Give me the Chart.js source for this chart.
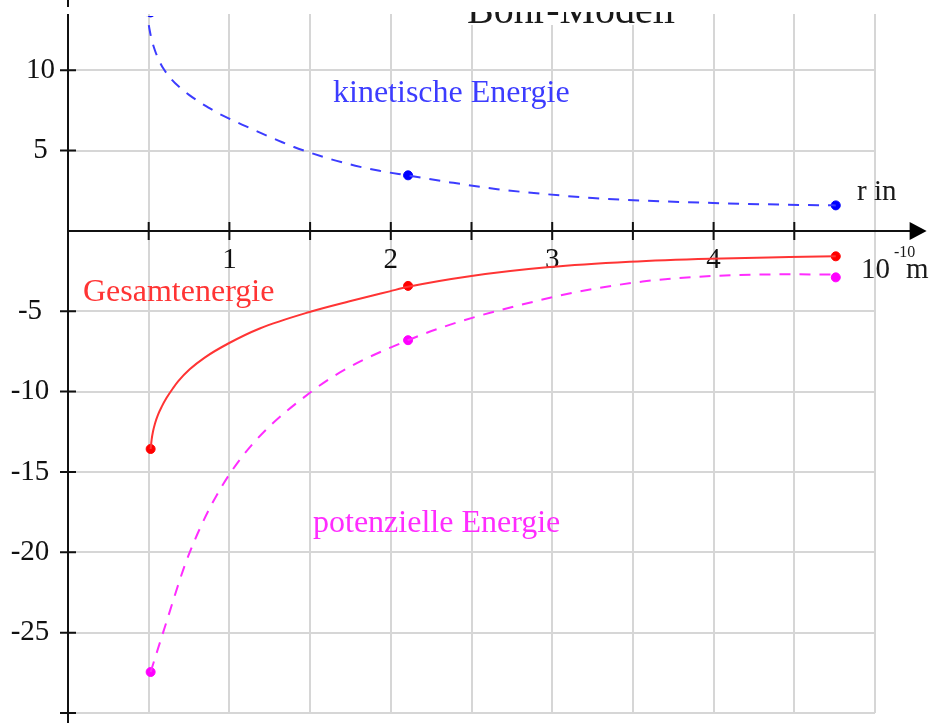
<!DOCTYPE html>
<html lang="de">
<head>
<meta charset="utf-8">
<title>Bohr-Modell</title>
<script src="https://cdn.jsdelivr.net/npm/chart.js@4.4.1/dist/chart.umd.min.js"></script>
<style>
  html, body { margin: 0; padding: 0; background: #fff; }
  canvas { display: block; }
</style>
</head>
<body>
<canvas id="energie" width="933" height="723"></canvas>
<script>
/* ---- Bahnradien r_n (10^-10 m) und Energien (eV) der ersten drei Bahnen ---- */
const R_LEVELS   = [0.512, 2.107, 4.757];
const KIN_LEVELS = [13.6, 3.46, 1.59];
const GES_LEVELS = [-13.57, -3.42, -1.58];
const POT_LEVELS = [-27.45, -6.8, -2.89];

/* ---- Kurvenverlauf ---- */
const R_KIN = [0.487, 0.492, 0.505, 0.52, 0.54, 0.56, 0.59, 0.64, 0.69, 0.75, 0.81, 0.87, 0.93, 1.0,
               1.1, 1.2, 1.3, 1.4, 1.5, 1.63, 1.78, 1.93, 2.107, 2.37, 2.66, 2.96, 3.25, 3.54, 4.0, 4.4, 4.757];
const E_KIN = [14.05, 13.45, 12.55, 11.85, 11.2, 10.7, 10.12, 9.45, 8.95, 8.47, 8.05, 7.68, 7.33, 6.98,
               6.52, 6.07, 5.64, 5.22, 4.87, 4.46, 4.06, 3.74, 3.45, 3.02, 2.6, 2.29, 2.05, 1.9, 1.74, 1.64, 1.59];

const R_GES = [0.512, 0.518, 0.527, 0.54, 0.558, 0.58, 0.61, 0.651, 0.682, 0.754, 0.847, 0.996, 1.188,
               1.491, 1.745, 1.993, 2.107, 2.489, 2.984, 3.48, 3.98, 4.47, 4.757];
const E_GES = [-13.57, -13.0, -12.47, -11.95, -11.43, -10.95, -10.4, -9.78, -9.36, -8.61, -7.88, -6.99, -6.07,
               -5.06, -4.38, -3.76, -3.48, -2.82, -2.25, -1.92, -1.73, -1.63, -1.58];

const R_POT = [0.512, 0.589, 0.754, 1.01, 1.508, 2.107, 3.0, 3.56, 4.0, 4.45, 4.757];
const E_POT = [-27.45, -25.0, -20.0, -15.0, -10.0, -6.8, -4.13, -3.15, -2.8, -2.7, -2.72];

/* ---- Achsenbeschriftung ---- */
const X_LABELS = [1, 2, 3, 4];
const Y_LABELS = [10, 5, -5, -10, -15, -20, -25];

const SERIF = '"Liberation Serif", "Times New Roman", serif';
const BLUE = '#3c3cff', RED = '#ff3434', MAGENTA = '#ff2cff';

const pts = (xs, ys) => xs.map((x, i) => ({ x: x, y: ys[i] }));

function curve(xs, ys, color, dash) {
  return {
    data: pts(xs, ys),
    showLine: true,
    borderColor: color,
    borderWidth: 2,
    borderDash: dash,
    pointRadius: 0,
    cubicInterpolationMode: 'monotone',
  };
}

function dots(ys, color) {
  return {
    data: pts(R_LEVELS, ys),
    showLine: false,
    backgroundColor: color,
    borderColor: color,
    pointRadius: 4.5,
  };
}

/* Achsenkreuz mit Pfeil, Striche, y-Zahlen */
const achsen = {
  id: 'achsen',
  beforeDatasetsDraw(chart) {
    const { ctx, chartArea, scales: { x, y } } = chart;
    const x0 = x.getPixelForValue(0);
    const y0 = y.getPixelForValue(0);
    const tip = x.getPixelForValue(5.32);

    ctx.save();
    ctx.strokeStyle = '#111';
    ctx.lineWidth = 2;
    ctx.beginPath();
    ctx.moveTo(x0, 0); ctx.lineTo(x0, 7);
    ctx.moveTo(x0, chartArea.top); ctx.lineTo(x0, chart.height);
    ctx.moveTo(x0, y0); ctx.lineTo(tip - 12, y0);
    y.ticks.forEach(t => {
      if (t.value === 0) return;
      const py = y.getPixelForValue(t.value);
      ctx.moveTo(x0 - 8, py); ctx.lineTo(x0 + 8, py);
    });
    x.ticks.forEach(t => {
      if (t.value === 0 || t.value === 5) return;
      const px = x.getPixelForValue(t.value);
      ctx.moveTo(px, y0 - 9); ctx.lineTo(px, y0 + 9);
    });
    ctx.stroke();

    ctx.fillStyle = '#000';
    ctx.beginPath();
    ctx.moveTo(tip, y0);
    ctx.lineTo(tip - 17, y0 - 9);
    ctx.lineTo(tip - 17, y0 + 9);
    ctx.closePath();
    ctx.fill();

    // y-Zahlen: negative Werte sitzen etwas weiter links
    ctx.font = '29px ' + SERIF;
    ctx.textAlign = 'center';
    ctx.textBaseline = 'middle';
    ctx.fillStyle = '#111';
    y.ticks.forEach(t => {
      if (!Y_LABELS.includes(t.value)) return;
      ctx.fillText(String(t.value), t.value < 0 ? 30 : 40.5, y.getPixelForValue(t.value));
    });
    ctx.restore();
  },
};

/* Kurven oben am Gitter abschneiden, seitlich dürfen die Punkte überstehen */
const rahmen = {
  id: 'rahmen',
  beforeDatasetsDraw(chart) {
    const a = chart.chartArea;
    chart.ctx.save();
    chart.ctx.beginPath();
    chart.ctx.rect(a.left - 10, a.top + 2, a.right - a.left + 20, a.bottom - a.top + 10);
    chart.ctx.clip();
  },
  afterDatasetsDraw(chart) {
    chart.ctx.restore();
  },
};

/* Titel und Beschriftungen */
const texte = {
  id: 'texte',
  afterDraw(chart) {
    const { ctx } = chart;
    ctx.save();
    // Titel, oben abgeschnitten
    ctx.fillStyle = '#fff';
    ctx.fillRect(0, 8, chart.width, 5);
    ctx.fillRect(465, 0, 213, 25);
    ctx.font = '40px ' + SERIF;
    ctx.textAlign = 'center';
    ctx.textBaseline = 'alphabetic';
    ctx.fillStyle = '#1a1a1a';
    ctx.fillText('Bohr-Modell', 571, 23);
    ctx.fillStyle = '#fff';
    ctx.fillRect(440, 0, 260, 12);

    ctx.textAlign = 'left';
    ctx.font = '32px ' + SERIF;
    ctx.fillStyle = BLUE;
    ctx.fillText('kinetische Energie', 333, 102);
    ctx.fillStyle = RED;
    ctx.fillText('Gesamtenergie', 83, 301);
    ctx.fillStyle = MAGENTA;
    ctx.fillText('potenzielle Energie', 313, 532);

    ctx.fillStyle = '#1a1a1a';
    ctx.font = '29px ' + SERIF;
    ctx.fillText('r in', 857, 200);
    ctx.fillText('10', 861, 278);
    ctx.fillText('m', 906, 278);
    ctx.font = '16px ' + SERIF;
    ctx.fillText('-10', 894, 257);
    ctx.restore();
  }
};

new Chart(document.getElementById('energie'), {
  type: 'scatter',
  data: {
    datasets: [
      curve(R_KIN, E_KIN, BLUE, [11, 9]),
      curve(R_GES, E_GES, RED, []),
      curve(R_POT, E_POT, MAGENTA, [11, 9]),
      dots(KIN_LEVELS, '#0000ff'),
      dots(GES_LEVELS, '#ff0000'),
      dots(POT_LEVELS, '#ff00ff'),
    ],
  },
  options: {
    responsive: false,
    animation: false,
    events: [],
    layout: { padding: { top: 14, right: 58, bottom: 10, left: 0 } },
    plugins: { legend: { display: false }, tooltip: { enabled: false } },
    scales: {
      x: {
        type: 'linear',
        position: { y: 0 },
        min: 0,
        max: 5,
        border: { display: false },
        grid: {
          color: c => (c.tick && c.tick.value === 0 ? 'rgba(0,0,0,0)' : '#d6d6d6'),
          lineWidth: 2,
          drawTicks: false,
        },
        ticks: {
          stepSize: 0.5,
          padding: 12,
          color: '#111',
          font: { family: SERIF, size: 29 },
          maxRotation: 0,
          autoSkip: false,
          callback: v => (X_LABELS.includes(v) ? String(v) : ''),
        },
      },
      y: {
        type: 'linear',
        min: -30,
        max: 13.5,
        border: { display: false },
        afterFit: s => { s.width = 68; },
        grid: {
          color: c => (c.tick && c.tick.value === 0 ? 'rgba(0,0,0,0)' : '#d6d6d6'),
          lineWidth: 2,
          drawTicks: false,
        },
        ticks: {
          stepSize: 5,
          includeBounds: false,
          display: false,
        },
      },
    },
  },
  plugins: [achsen, rahmen, texte],
});
</script>
</body>
</html>
